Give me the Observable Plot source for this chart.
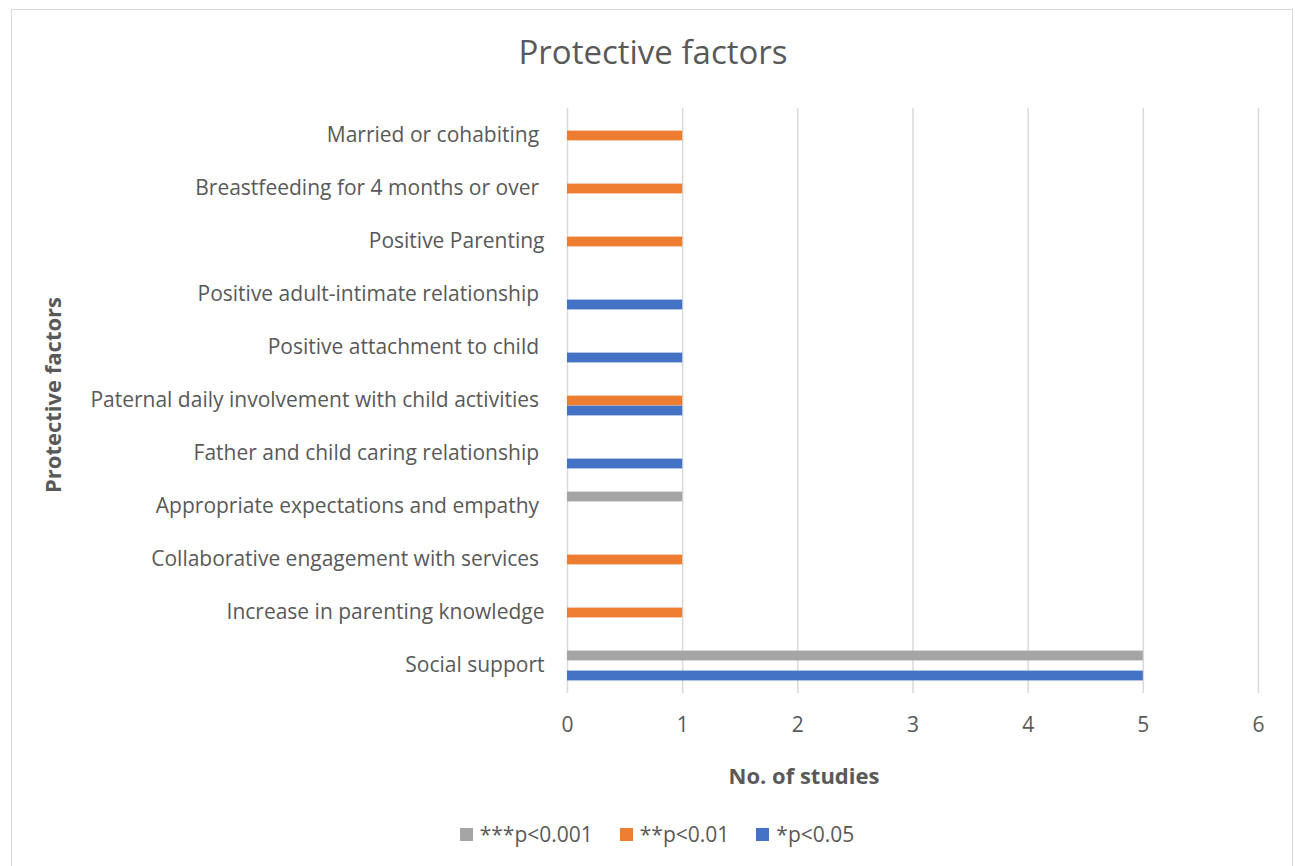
<!DOCTYPE html>
<html>
<head>
<meta charset="utf-8">
<script src="https://cdn.jsdelivr.net/npm/d3@7"></script>
<script src="https://cdn.jsdelivr.net/npm/@observablehq/plot@0.6"></script>
<style>
  html, body { margin: 0; padding: 0; background: #fff; }
  body { width: 1295px; height: 866px; position: relative; overflow: hidden; font-family: "Open Sans", Lato, sans-serif; color: #595959; }
  #frame { position: absolute; left: 11px; top: 9px; width: 1282px; height: 880px; border: 1.5px solid #d9d9d9; box-sizing: border-box; }
  #chart { position: absolute; left: 0; top: 0; }
  #chart svg text { white-space: pre; }
  .title { position: absolute; left: 0; width: 1306px; top: 30px; text-align: center; font-size: 33px; line-height: 44px; }
  .xtitle { position: absolute; left: 604px; width: 400px; top: 760px; text-align: center; font-size: 22px; font-weight: bold; line-height: 30px; }
  .ytitle { position: absolute; left: 52px; top: 395px; transform: translate(-50%, -50%) rotate(-90deg); white-space: nowrap; font-size: 22px; font-weight: bold; line-height: 30px; }
  #legend { position: absolute; left: 0; width: 1314px; top: 819px; display: flex; justify-content: center; gap: 27px; font-size: 21px; line-height: 30px; }
  #legend span { display: inline-flex; align-items: center; gap: 7px; }
  #legend i { display: inline-block; width: 13px; height: 13px; }
</style>
</head>
<body>
<div id="frame"></div>
<div id="chart"></div>
<div class="title">Protective factors</div>
<div class="xtitle">No. of studies</div>
<div class="ytitle">Protective factors</div>
<div id="legend"></div>
<script>
// Factors listed top to bottom (trailing spaces are part of the labels)
const factors = [
  "Married or cohabiting ",
  "Breastfeeding for 4 months or over ",
  "Positive Parenting",
  "Positive adult-intimate relationship ",
  "Positive attachment to child ",
  "Paternal daily involvement with child activities ",
  "Father and child caring relationship ",
  "Appropriate expectations and empathy ",
  "Collaborative engagement with services ",
  "Increase in parenting knowledge",
  "Social support"
];

// Significance levels and their colours
const levels = ["***p<0.001", "**p<0.01", "*p<0.05"];
const levelColors = ["#a5a5a5", "#ed7d31", "#4472c4"];

// Number of studies per factor, aligned with `factors` (null = none)
const p001 = [null, null, null, null, null, null, null, 1, null, null, 5];
const p01  = [1, 1, 1, null, null, 1, null, null, 1, 1, null];
const p05  = [null, null, null, 1, 1, 1, 1, null, null, null, 5];

const xTicks = [0, 1, 2, 3, 4, 5, 6];

const seriesValues = [p001, p01, p05];
const records = levels.flatMap((level, i) =>
  factors.map((factor, j) => ({factor, level, count: seriesValues[i][j]}))
    .filter(d => d.count != null)
);

const width = 1295, height = 866;
const marginTop = 108, marginBottom = 173, marginLeft = 567, marginRight = 37;
const band = (height - marginTop - marginBottom) / factors.length;
const barH = 10;
const inset = (band - barH) / 2;

const bars = levels.map((level, i) =>
  Plot.barX(records.filter(d => d.level === level), {
    x: "count",
    y: "factor",
    fill: levelColors[i],
    insetTop: inset,
    insetBottom: inset,
    dy: (i - 1) * barH
  })
);

const chart = Plot.plot({
  width, height, marginTop, marginBottom, marginLeft, marginRight,
  style: {fontFamily: "'Open Sans', Lato, sans-serif", color: "#595959", background: "transparent"},
  x: {domain: [0, 6]},
  y: {domain: factors, padding: 0},
  marks: [
    Plot.gridX(xTicks, {stroke: "#d9d9d9", strokeOpacity: 1, strokeWidth: 1.5}),
    ...bars,
    Plot.axisX({ticks: xTicks, tickFormat: "d", tickSize: 0, tickPadding: 24, fontSize: 21, label: null, fill: "#595959"}),
    Plot.axisY({tickSize: 0, tickPadding: 23, fontSize: 21, label: null, fill: "#595959", dy: -1})
  ]
});
document.getElementById("chart").append(chart);

// Legend
const legend = document.getElementById("legend");
levels.forEach((level, i) => {
  const item = document.createElement("span");
  const sw = document.createElement("i");
  sw.style.background = levelColors[i];
  item.append(sw, document.createTextNode(level));
  legend.append(item);
});
</script>
</body>
</html>
